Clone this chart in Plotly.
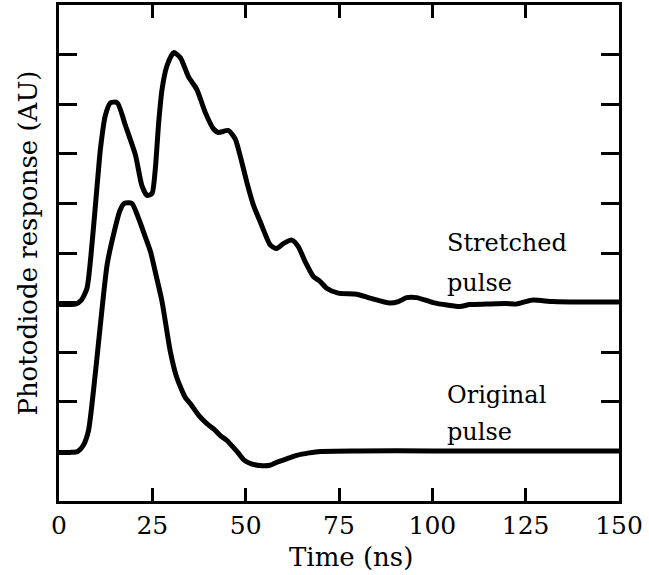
import plotly.graph_objects as go

# Original pulse (time in ns, response in AU)
orig_t = [0, 3, 5, 6.5, 7.9, 9.2, 10.6, 12.9, 14.7, 16.3, 17.5, 19.5, 21.3, 23.0, 24.5,
          26.0, 27.6, 29.8, 31.5, 33.8, 35.2, 37.5, 39.6, 41.5, 43.2, 45.0, 46.7, 48.0,
          49.5, 51.5, 54.5, 56.5, 58.3, 61.0, 63.7, 67.0, 70.0, 80, 100, 120, 140, 150]
orig_y = [0.98, 0.98, 1.0, 1.12, 1.42, 2.2, 3.2, 4.77, 5.4, 5.85, 6.0, 6.0, 5.7, 5.35, 5.03,
          4.55, 4.02, 3.02, 2.5, 2.09, 1.96, 1.72, 1.56, 1.45, 1.32, 1.22, 1.08, 0.97,
          0.83, 0.75, 0.71, 0.72, 0.78, 0.85, 0.92, 0.97, 1.0, 1.01, 1.01, 1.01, 1.01, 1.01]

# Stretched pulse
str_t = [0, 3, 4.4, 6.0, 7.5, 8.9, 10.2, 11.1, 12.4, 13.8, 15.6, 17.8, 20.5, 22.2, 23.6,
         24.9, 25.8, 26.7, 27.6, 28.9, 30.7, 32.5, 34.7, 36.9, 39.2, 41.4, 42.7, 45.4,
         47.2, 48.5, 50.3, 52.1, 53.9, 56.6, 58.3, 60.1, 62.4, 64.1, 65.9, 68.1, 69.9,
         71.7, 74.8, 79.7, 83.3, 88.6, 90.9, 93.1, 95.8, 100.2, 104, 107.4, 110, 114.5,
         119.8, 122.5, 125, 127, 132.3, 140, 150]
str_y = [3.96, 3.96, 3.97, 4.05, 4.29, 5.23, 6.35, 7.1, 7.77, 8.03, 8.03, 7.57, 6.97, 6.36, 6.16,
         6.2, 6.7, 7.63, 8.3, 8.77, 9.04, 8.94, 8.55, 8.3, 7.83, 7.5, 7.43, 7.47,
         7.3, 6.97, 6.43, 5.96, 5.63, 5.16, 5.09, 5.19, 5.26, 5.13, 4.83, 4.53, 4.43,
         4.29, 4.19, 4.17, 4.09, 3.99, 4.02, 4.1, 4.1, 4.0, 3.95, 3.92, 3.96, 3.97,
         3.98, 3.97, 4.02, 4.05, 4.02, 4.01, 4.01]

x_ticks = [0, 25, 50, 75, 100, 125, 150]
y_ticks = [1, 2, 3, 4, 5, 6, 7, 8, 9]

# Curve labels: (text, x, y) in data units, one line each
labels = [("Stretched", 103.3, 5.20), ("pulse", 103.3, 4.40),
          ("Original", 103.3, 2.13), ("pulse", 103.3, 1.39)]

FONT = "DejaVu Serif"

fig = go.Figure()
for t, y in [(orig_t, orig_y), (str_t, str_y)]:
    fig.add_trace(go.Scatter(x=t, y=y, mode="lines",
                             line=dict(color="black", width=5, shape="spline", smoothing=0.6),
                             showlegend=False, hoverinfo="skip"))

fig.update_layout(
    width=649, height=575,
    margin=dict(l=58.5, r=29.5, t=2, b=74),
    paper_bgcolor="white", plot_bgcolor="white",
    font=dict(family=FONT, size=25, color="black"),
    showlegend=False,
)
fig.update_xaxes(range=[0, 150], tickvals=x_ticks, ticktext=[str(v) for v in x_ticks],
                 ticks="inside", ticklen=13, tickwidth=2.5, tickcolor="black",
                 showline=True, linecolor="black", linewidth=3, mirror="ticks",
                 showgrid=False, zeroline=False, tickfont=dict(size=25, family=FONT))
fig.update_yaxes(range=[0, 10], tickvals=y_ticks, showticklabels=False,
                 ticks="inside", ticklen=18, tickwidth=2.5, tickcolor="black",
                 showline=True, linecolor="black", linewidth=3, mirror="ticks",
                 showgrid=False, zeroline=False)

for txt, lx, ly in labels:
    fig.add_annotation(text=txt, x=lx, y=ly, xref="x", yref="y",
                       xanchor="left", yanchor="middle", align="left", showarrow=False,
                       font=dict(size=24, family=FONT))
fig.add_annotation(text="Time (ns)", x=0.521, y=-0.112, xref="paper", yref="paper",
                   xanchor="center", yanchor="middle", showarrow=False,
                   font=dict(size=26, family=FONT))
fig.add_annotation(text="Photodiode response (AU)", x=-0.0544, y=0.52, xref="paper", yref="paper",
                   xanchor="center", yanchor="middle", textangle=-90, showarrow=False,
                   font=dict(size=26, family=FONT))

fig.write_html("out.html")
